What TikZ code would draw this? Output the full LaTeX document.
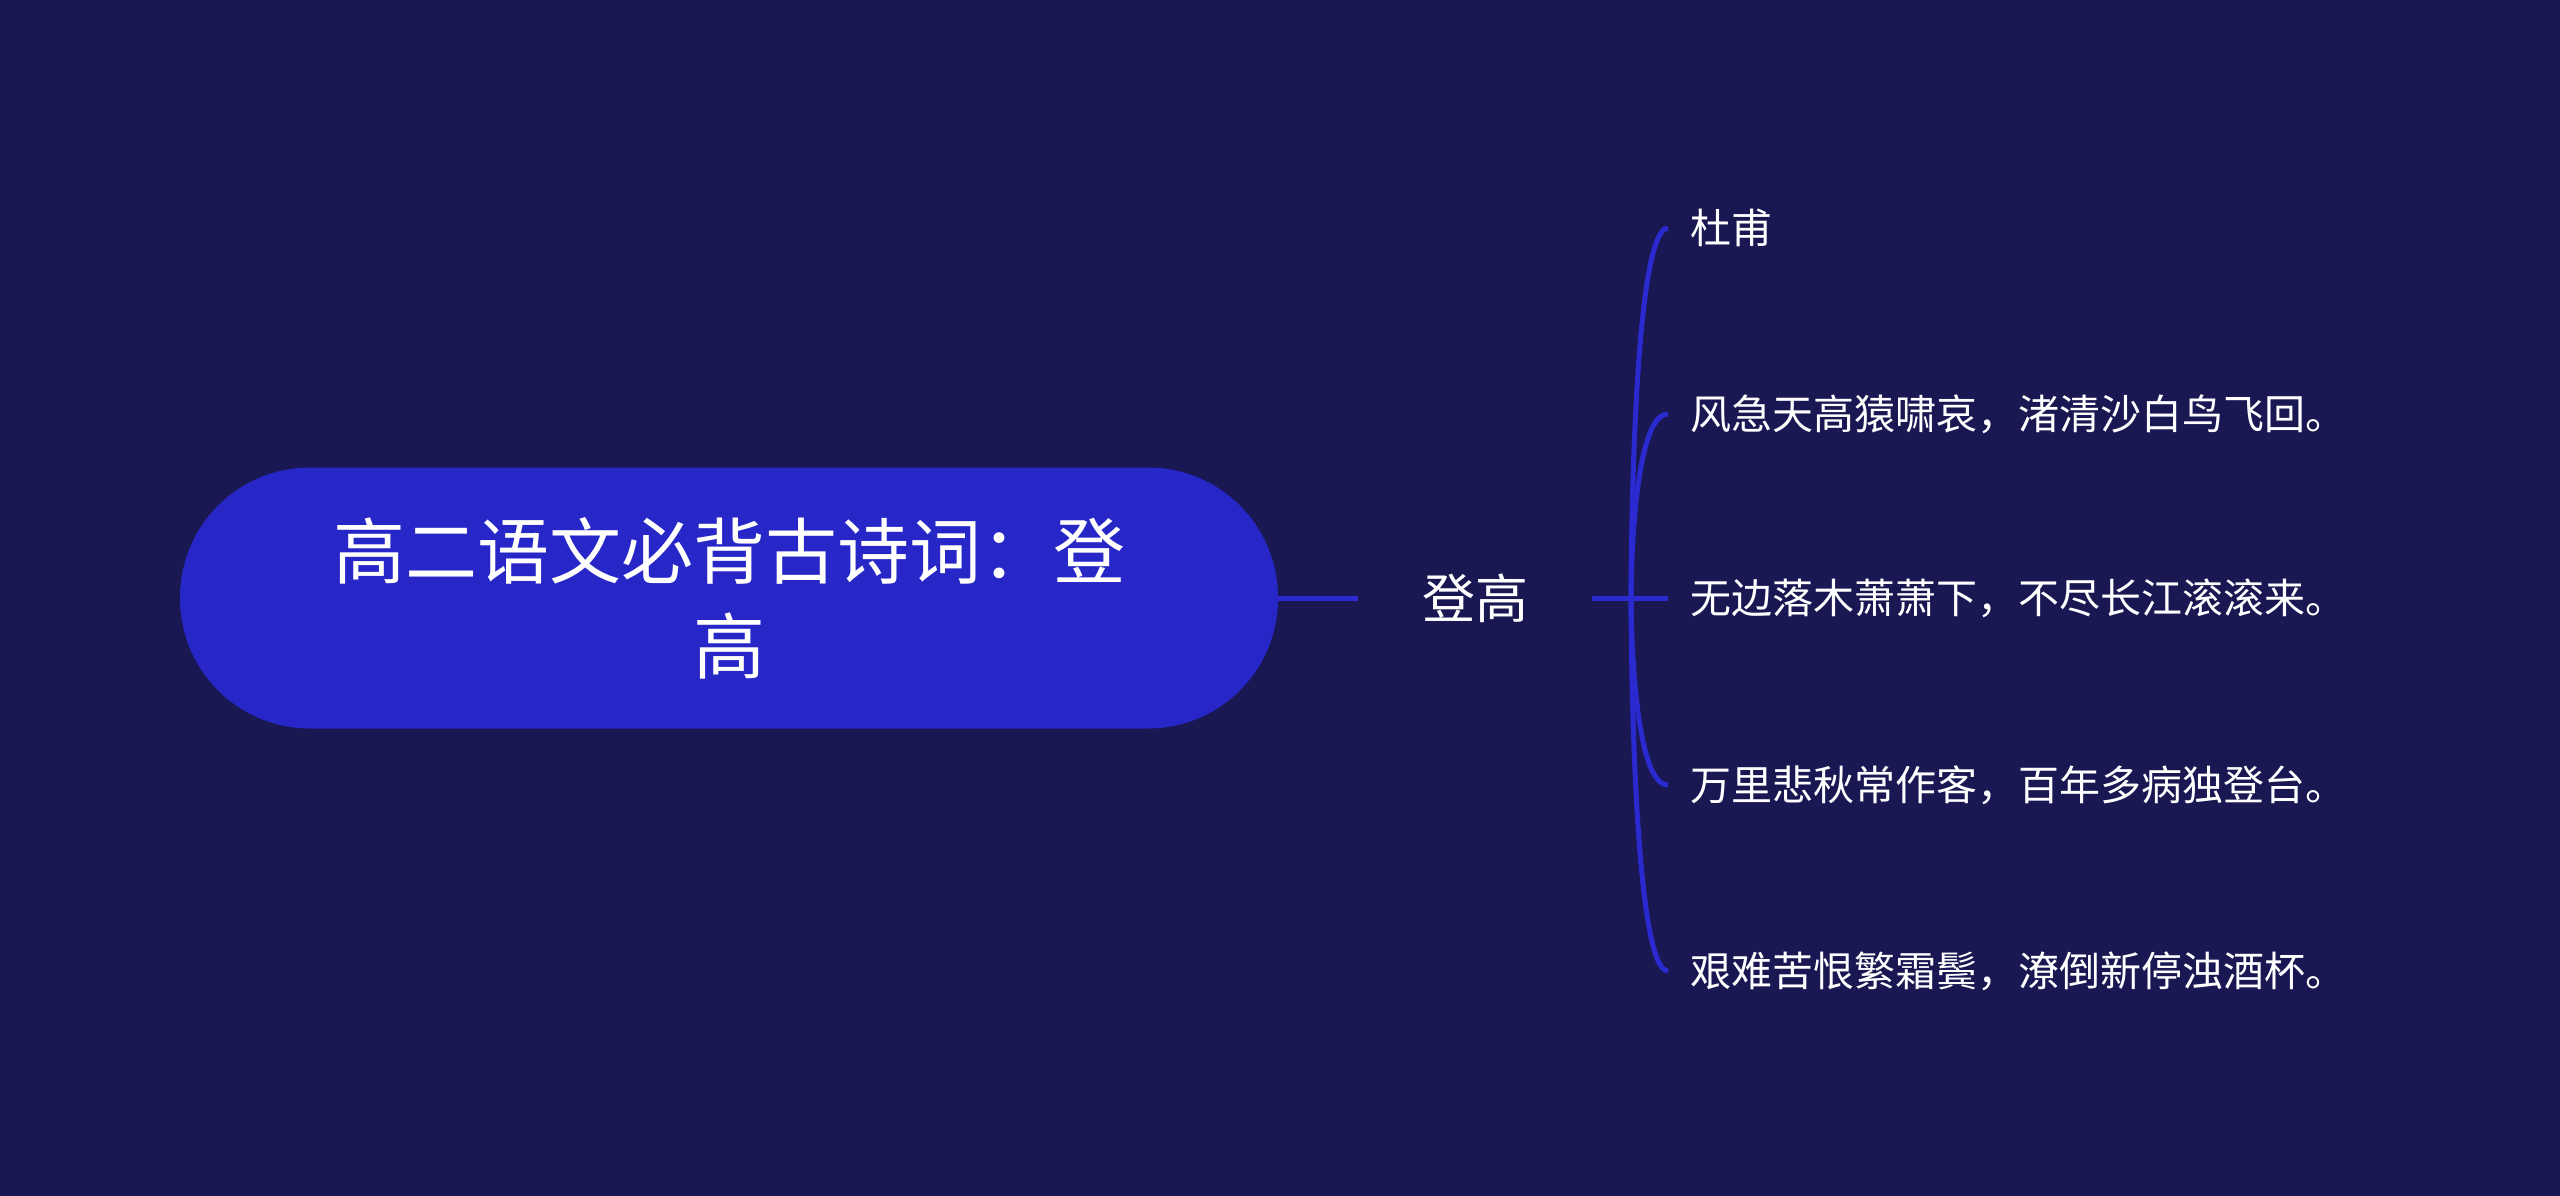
\documentclass[tikz,border=0pt]{standalone}
\usepackage{fontspec}
\newfontfamily\cjk{Noto Sans CJK SC}
\usetikzlibrary{positioning}
\definecolor{nightnavy}{RGB}{25,24,82}
\definecolor{royalblue}{RGB}{39,39,200}
\definecolor{linkblue}{RGB}{42,42,208}

\begin{document}
\begin{tikzpicture}[
    x=1pt, y=-1pt,
    font=\cjk,
    rootnode/.style={fill=royalblue, text=white, rounded corners=130pt, minimum width=1098pt, minimum height=261pt, align=center, font=\cjk\fontsize{72}{95}\selectfont},
    topic/.style={text=white, minimum width=234pt, font=\cjk\fontsize{53}{64}\selectfont},
    leaf/.style={text=white, anchor=west, inner xsep=22pt, font=\cjk\fontsize{41}{50}\selectfont},
    branch/.style={draw=linkblue, line width=5pt}
]

% Background
\fill[nightnavy] (0,0) rectangle (2560,1196);

% Root and topic
\node[rootnode] (root) at (729,598) {高二语文必背古诗词：登\\高};
\node[topic] (topic) at (1475,598) {登高};
\coordinate (hub) at (1631,598);

% Leaves
\node[leaf] (l1) at (1668,228) {杜甫};
\node[leaf] (l2) at (1668,414) {风急天高猿啸哀，渚清沙白鸟飞回。};
\node[leaf] (l3) at (1668,598) {无边落木萧萧下，不尽长江滚滚来。};
\node[leaf] (l4) at (1668,785) {万里悲秋常作客，百年多病独登台。};
\node[leaf] (l5) at (1668,971) {艰难苦恨繁霜鬓，潦倒新停浊酒杯。};

% Connectors
\draw[branch] (root.east) -- (topic.west);
\draw[branch] (topic.east) -- (l3.west);
\foreach \leaf in {l1,l2,l4,l5}
    \draw[branch] (hub) .. controls (hub) and (hub |- \leaf.west) .. (\leaf.west);

\end{tikzpicture}
\end{document}
